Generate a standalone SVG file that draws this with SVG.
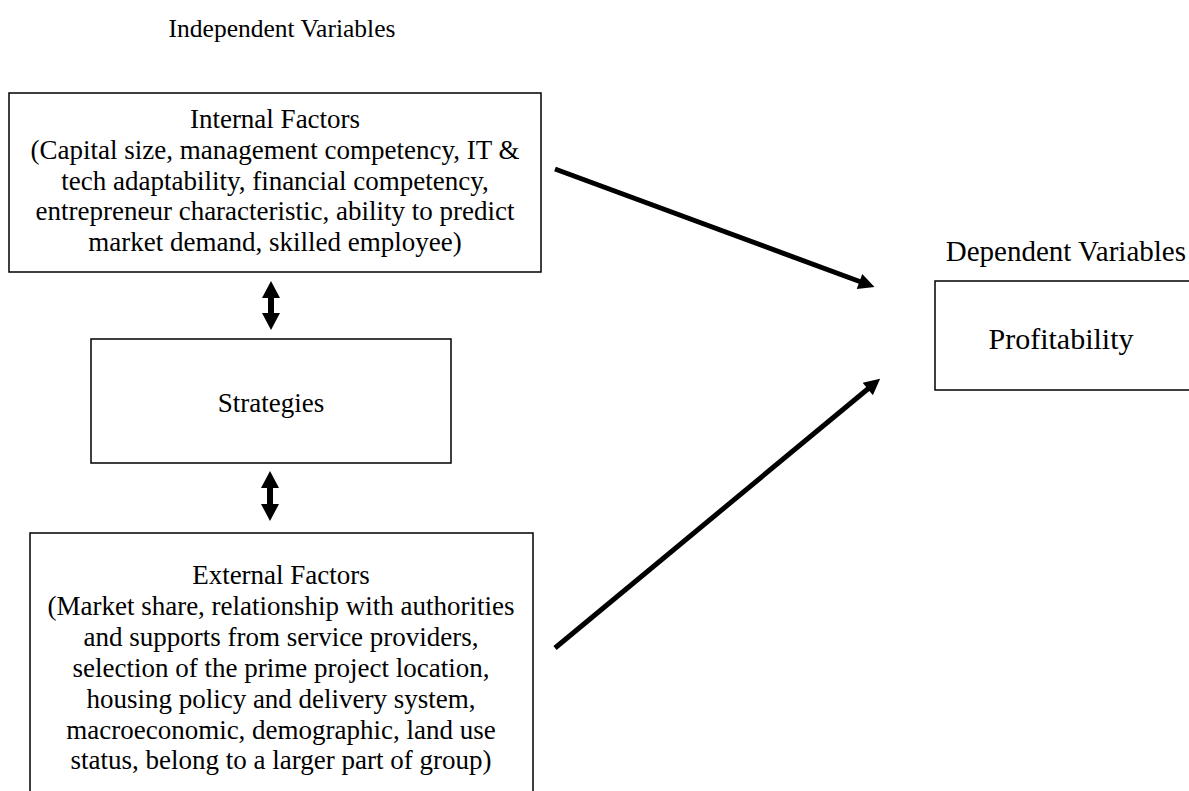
<svg xmlns="http://www.w3.org/2000/svg" width="1189" height="791" viewBox="0 0 1189 791">
<defs>
<style>
.box{fill:#fff;stroke:#000;stroke-width:1.5}
.t{font-family:"Liberation Serif","Times New Roman",serif;font-size:27px;fill:#000;text-anchor:middle}
.h{font-size:25.5px}
.conn{stroke:#000;stroke-width:5;fill:none}
.dbl{fill:#000}
</style>
<marker id="ah" viewBox="0 0 10 10" refX="1" refY="5" markerWidth="4" markerHeight="3.2" markerUnits="strokeWidth" orient="auto">
<path d="M0,0 L10,5 L0,10 z" fill="#000"/>
</marker>
</defs>
<rect width="1189" height="791" fill="#fff"/>
<text class="t h" x="282" y="37">Independent Variables</text>
<text class="t" x="1186" y="261" style="font-size:29px;text-anchor:end">Dependent Variables</text>
<g id="internal">
<rect class="box" x="9" y="93" width="532" height="179"/>
<text class="t" x="275" y="128">Internal Factors</text>
<text class="t" x="275" y="159">(Capital size, management competency, IT &amp;</text>
<text class="t" x="275" y="190">tech adaptability, financial competency,</text>
<text class="t" x="275" y="220">entrepreneur characteristic, ability to predict</text>
<text class="t" x="275" y="251">market demand, skilled employee)</text>
</g>
<g id="strategies">
<rect class="box" x="91" y="339" width="360" height="124"/>
<text class="t" x="271" y="412">Strategies</text>
</g>
<g id="external">
<rect class="box" x="30" y="533" width="503" height="270"/>
<text class="t" x="281" y="584">External Factors</text>
<text class="t" x="281" y="615">(Market share, relationship with authorities</text>
<text class="t" x="281" y="646">and supports from service providers,</text>
<text class="t" x="281" y="677">selection of the prime project location,</text>
<text class="t" x="281" y="708">housing policy and delivery system,</text>
<text class="t" x="281" y="739">macroeconomic, demographic, land use</text>
<text class="t" x="281" y="769">status, belong to a larger part of group)</text>
</g>
<g id="profitability">
<rect class="box" x="935" y="281" width="270" height="109"/>
<text class="t" x="1061" y="349" style="font-size:30px">Profitability</text>
</g>
<g id="connectors">
<line class="conn" x1="555" y1="169" x2="861" y2="282" marker-end="url(#ah)"/>
<line class="conn" x1="555" y1="648" x2="869" y2="388" marker-end="url(#ah)"/>
<path class="dbl" d="M271,281 L280,298 L274,298 L274,313 L280,313 L271,330 L262,313 L268,313 L268,298 L262,298 z"/>
<path class="dbl" d="M270,471 L279,488 L273,488 L273,504 L279,504 L270,521 L261,504 L267,504 L267,488 L261,488 z"/>
</g>
</svg>
